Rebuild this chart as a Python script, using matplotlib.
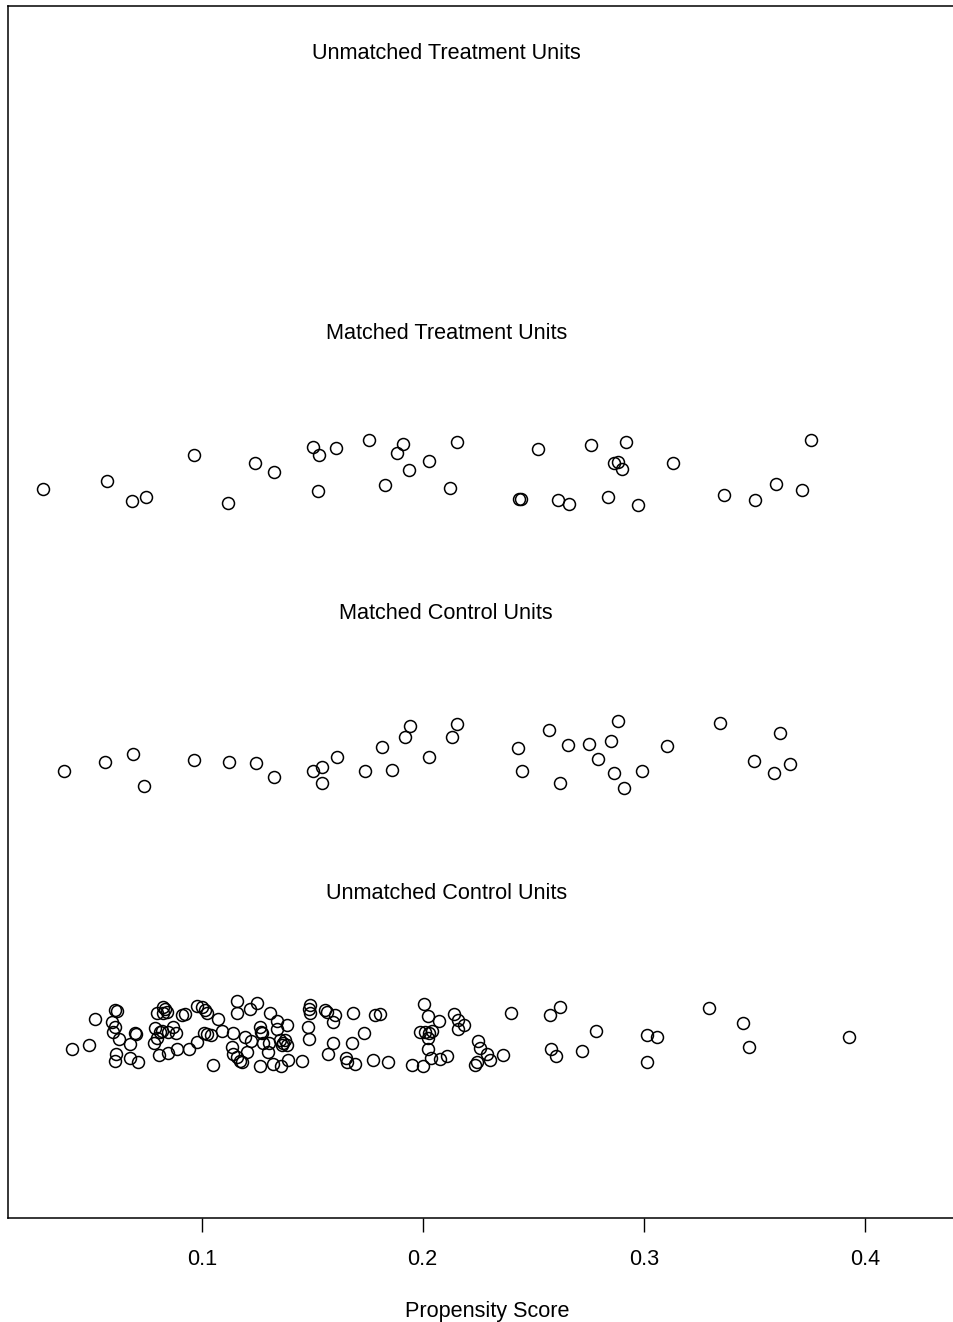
import numpy as np
import matplotlib
matplotlib.use("Agg")
import matplotlib.pyplot as plt

plt.rcParams['font.family'] = ['Liberation Sans', 'DejaVu Sans']

# propensity scores (x) and jitter heights (y)
mt_x = [0.0283, 0.0571, 0.0685, 0.0747, 0.0967, 0.1118, 0.1243, 0.1327, 0.1502, 0.1532,
        0.1528, 0.1608, 0.1756, 0.1829, 0.1882, 0.1910, 0.1939, 0.2027, 0.2124, 0.2155,
        0.2520, 0.2763, 0.2919, 0.2867, 0.2885, 0.2903, 0.3131, 0.3756, 0.2436, 0.2446,
        0.2612, 0.2663, 0.2840, 0.2976, 0.3365, 0.3502, 0.3597, 0.3718]
mt_y = [0.6384, 0.6445, 0.6300, 0.6326, 0.6626, 0.6286, 0.6571, 0.6507, 0.6684, 0.6631,
        0.6369, 0.6681, 0.6738, 0.6412, 0.6643, 0.6705, 0.6521, 0.6584, 0.6393, 0.6719,
        0.6671, 0.6700, 0.6719, 0.6569, 0.6576, 0.6526, 0.6574, 0.6736, 0.6314, 0.6314,
        0.6307, 0.6279, 0.6331, 0.6274, 0.6345, 0.6305, 0.6421, 0.6376]

mc_x = [0.0377, 0.0562, 0.0688, 0.0740, 0.0967, 0.1125, 0.1246, 0.1327, 0.1505, 0.1543,
        0.1546, 0.1611, 0.1740, 0.1814, 0.1861, 0.1919, 0.1944, 0.2027, 0.2133, 0.2157,
        0.2433, 0.2449, 0.2570, 0.2620, 0.2656, 0.2754, 0.2795, 0.2851, 0.2884, 0.2866,
        0.2911, 0.2994, 0.3104, 0.3345, 0.3618, 0.3498, 0.3591, 0.3663]
mc_y = [0.4374, 0.4434, 0.4491, 0.4264, 0.4450, 0.4434, 0.4429, 0.4331, 0.4371, 0.4398,
        0.4288, 0.4474, 0.4371, 0.4543, 0.4381, 0.4614, 0.4691, 0.4469, 0.4612, 0.4709,
        0.4536, 0.4374, 0.4666, 0.4284, 0.4559, 0.4564, 0.4457, 0.4584, 0.4731, 0.4357,
        0.4248, 0.4371, 0.4550, 0.4714, 0.4645, 0.4443, 0.4359, 0.4424]

uc_x = [0.0413, 0.0491, 0.0519, 0.0608, 0.0618, 0.0593, 0.0608, 0.0597, 0.0627, 0.0676,
        0.0698, 0.0701, 0.0612, 0.0608, 0.0676, 0.0713, 0.0796, 0.0824, 0.0834, 0.0842,
        0.0826, 0.0790, 0.0811, 0.0799, 0.0786, 0.0819, 0.0849, 0.0871, 0.0884, 0.0808,
        0.0849, 0.0887, 0.0910, 0.0924, 0.0944, 0.0977, 0.0977, 0.1000, 0.1015, 0.1025,
        0.1075, 0.1012, 0.1023, 0.1041, 0.1090, 0.1052, 0.1158, 0.1158, 0.1143, 0.1136,
        0.1143, 0.1158, 0.1173, 0.1252, 0.1219, 0.1309, 0.1339, 0.1264, 0.1267, 0.1273,
        0.1385, 0.1339, 0.1196, 0.1222, 0.1276, 0.1306, 0.1354, 0.1368, 0.1377, 0.1363,
        0.1386, 0.1301, 0.1204, 0.1181, 0.1264, 0.1321, 0.1357, 0.1392, 0.1452, 0.1490,
        0.1487, 0.1490, 0.1482, 0.1486, 0.1558, 0.1568, 0.1603, 0.1595, 0.1593, 0.1573,
        0.1653, 0.1659, 0.1694, 0.1686, 0.1679, 0.1784, 0.1807, 0.1736, 0.1776, 0.1844,
        0.2007, 0.2025, 0.2075, 0.1988, 0.2010, 0.2029, 0.2043, 0.2023, 0.2023, 0.2038,
        0.2078, 0.2109, 0.1950, 0.2003, 0.2143, 0.2161, 0.2188, 0.2161, 0.2252, 0.2259,
        0.2290, 0.2305, 0.2244, 0.2237, 0.2365, 0.2400, 0.2576, 0.2621, 0.2581, 0.2602,
        0.2719, 0.2784, 0.3014, 0.3059, 0.3014, 0.3297, 0.3451, 0.3478, 0.3930]
uc_y = [0.2386, 0.2412, 0.2598, 0.2664, 0.2659, 0.2581, 0.2541, 0.2509, 0.2455, 0.2419,
        0.2498, 0.2491, 0.2350, 0.2302, 0.2324, 0.2295, 0.2641, 0.2684, 0.2669, 0.2650,
        0.2641, 0.2534, 0.2509, 0.2462, 0.2431, 0.2516, 0.2507, 0.2541, 0.2498, 0.2343,
        0.2355, 0.2384, 0.2626, 0.2636, 0.2384, 0.2438, 0.2693, 0.2684, 0.2664, 0.2645,
        0.2602, 0.2502, 0.2493, 0.2486, 0.2512, 0.2269, 0.2731, 0.2645, 0.2498, 0.2398,
        0.2350, 0.2331, 0.2300, 0.2712, 0.2669, 0.2645, 0.2588, 0.2541, 0.2507, 0.2498,
        0.2557, 0.2526, 0.2474, 0.2445, 0.2431, 0.2431, 0.2450, 0.2429, 0.2450, 0.2414,
        0.2414, 0.2366, 0.2366, 0.2295, 0.2264, 0.2279, 0.2264, 0.2307, 0.2300, 0.2700,
        0.2669, 0.2645, 0.2545, 0.2455, 0.2664, 0.2650, 0.2631, 0.2579, 0.2426, 0.2350,
        0.2319, 0.2295, 0.2276, 0.2645, 0.2426, 0.2629, 0.2636, 0.2502, 0.2307, 0.2295,
        0.2707, 0.2621, 0.2588, 0.2509, 0.2509, 0.2502, 0.2516, 0.2462, 0.2384, 0.2319,
        0.2312, 0.2336, 0.2271, 0.2264, 0.2636, 0.2593, 0.2557, 0.2526, 0.2445, 0.2391,
        0.2350, 0.2307, 0.2295, 0.2271, 0.2343, 0.2641, 0.2626, 0.2688, 0.2386, 0.2336,
        0.2369, 0.2514, 0.2484, 0.2471, 0.2295, 0.2676, 0.2569, 0.2398, 0.2471]

group_labels = ["Unmatched Treatment Units", "Matched Treatment Units",
                "Matched Control Units", "Unmatched Control Units"]
label_y = [0.95, 0.75, 0.55, 0.35]
xticks = [0.1, 0.2, 0.3, 0.4]

fig = plt.figure(figsize=(9.54, 13.22), dpi=100)
ax = fig.add_axes([8 / 954, 104 / 1322, 958 / 954, 1212 / 1322])

marker_kw = dict(linestyle='none', marker='o', markersize=8.6,
                 markerfacecolor='none', markeredgecolor='black', markeredgewidth=1.1)
ax.plot(mt_x, mt_y, **marker_kw)
ax.plot(mc_x, mc_y, **marker_kw)
ax.plot(uc_x, uc_y, **marker_kw)

# group titles centred on the range of the scores
all_x = mt_x + mc_x + uc_x
mid = (min(all_x) + max(all_x)) / 2
for lab, yy in zip(group_labels, label_y):
    ax.text(mid, yy, lab, ha='center', va='center', fontsize=15.6)

ax.set_xlim(0.01235, 0.4458)
ax.set_ylim(0.1179, 0.9836)
ax.set_yticks([])
ax.set_xticks(xticks)
ax.set_xticklabels([str(t) for t in xticks], fontsize=15.6)
ax.tick_params(axis='x', length=10, width=1.0, pad=12)
ax.set_xlabel('Propensity Score', fontsize=15.6, labelpad=23)
for s in ax.spines.values():
    s.set_linewidth(1.1)

fig.savefig('out.png', dpi=100)
